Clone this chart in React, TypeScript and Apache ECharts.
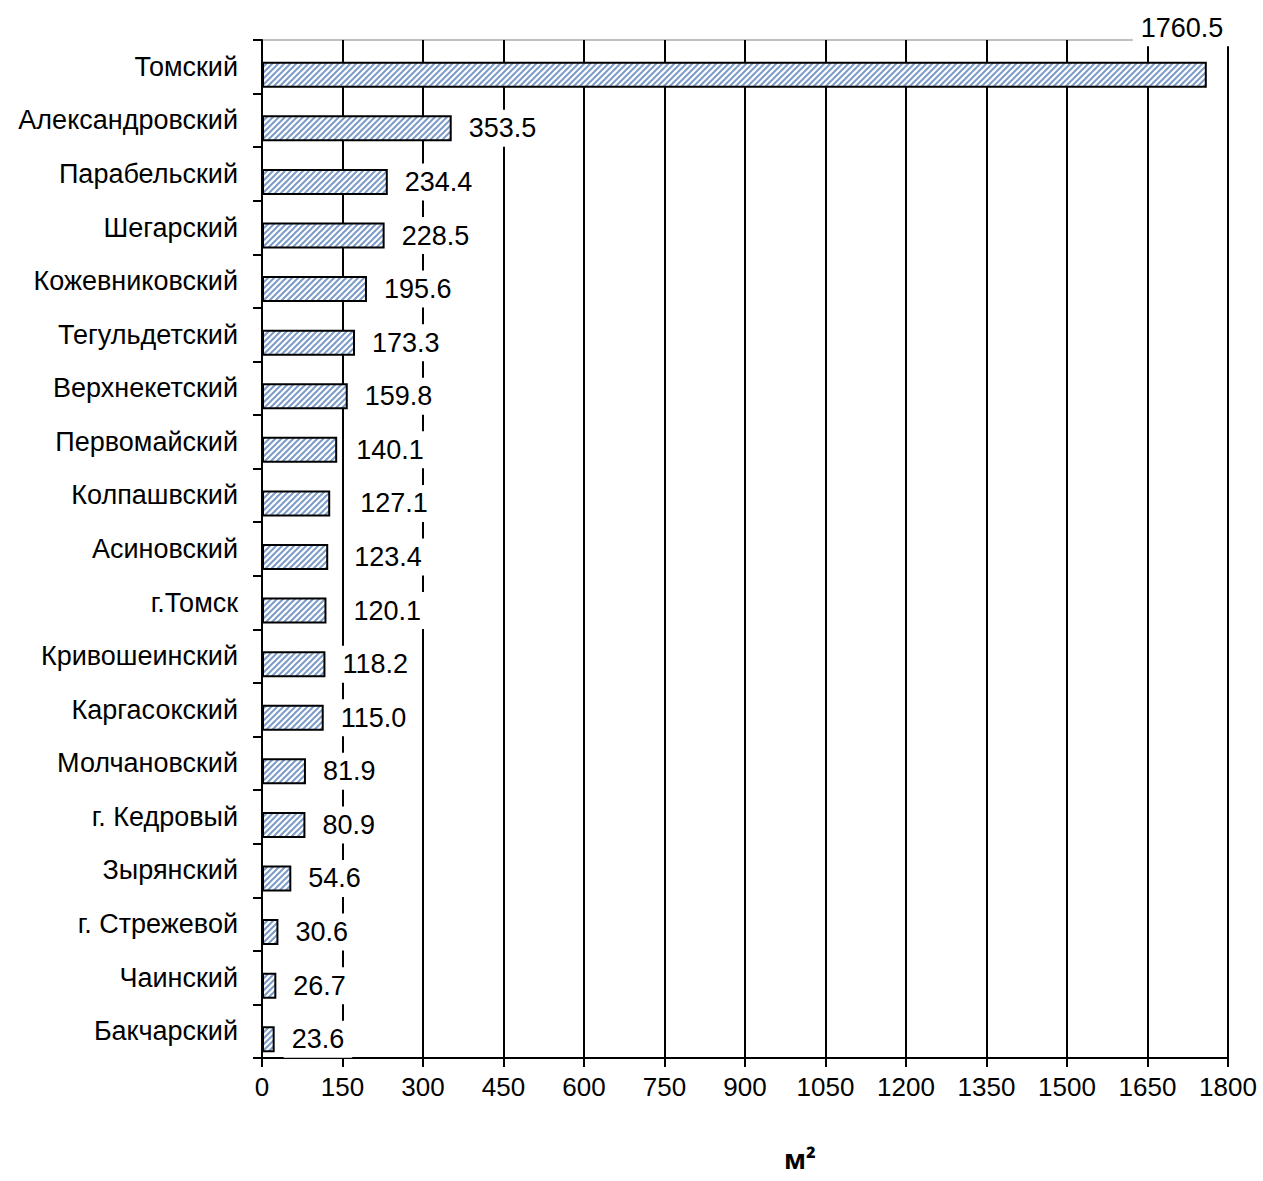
import React, { useEffect, useRef } from "react";
import * as echarts from "echarts";

const categories = [
  "Томский",
  "Александровский",
  "Парабельский",
  "Шегарский",
  "Кожевниковский",
  "Тегульдетский",
  "Верхнекетский",
  "Первомайский",
  "Колпашвский",
  "Асиновский",
  "г.Томск",
  "Кривошеинский",
  "Каргасокский",
  "Молчановский",
  "г. Кедровый",
  "Зырянский",
  "г. Стрежевой",
  "Чаинский",
  "Бакчарский",
];

const values = [
  1760.5, 353.5, 234.4, 228.5, 195.6, 173.3, 159.8, 140.1, 127.1, 123.4, 120.1,
  118.2, 115.0, 81.9, 80.9, 54.6, 30.6, 26.7, 23.6,
];

const xMin = 0;
const xMax = 1800;
const xStep = 150;
const unitLabel = "м²";

function makeHatch(): HTMLCanvasElement {
  const s = 6;
  const c = document.createElement("canvas");
  c.width = s;
  c.height = s;
  const ctx = c.getContext("2d")!;
  ctx.fillStyle = "#ffffff";
  ctx.fillRect(0, 0, s, s);
  ctx.strokeStyle = "#7c9bc8";
  ctx.lineWidth = 2;
  ctx.beginPath();
  ctx.moveTo(-1, s + 1);
  ctx.lineTo(s + 1, -1);
  ctx.moveTo(-1, 1);
  ctx.lineTo(1, -1);
  ctx.moveTo(s - 1, s + 1);
  ctx.lineTo(s + 1, s - 1);
  ctx.stroke();
  return c;
}

// per-bar label nudges (pixels) as placed in the original
const labelNudge: Record<number, number[]> = {
  0: [-83, -47],
  7: [2, 0],
  8: [13, 0],
  9: [9, 0],
  10: [10, 0],
};

export default function App() {
  const ref = useRef<HTMLDivElement>(null);
  useEffect(() => {
    if (!ref.current) return;
    const chart = echarts.init(ref.current, null, { renderer: "svg" });
    const hatch = makeHatch();
    const font = "'Liberation Sans', Arial, sans-serif";
    const data = values.map((v, i) => {
      if (labelNudge[i]) {
        return { value: v, label: { offset: labelNudge[i] } };
      }
      return v;
    });
    chart.setOption({
      animation: false,
      backgroundColor: "#ffffff",
      grid: {
        left: 262,
        right: 35,
        top: 40,
        bottom: 123,
        show: true,
        borderColor: "#808080",
        borderWidth: 1,
        backgroundColor: "transparent",
      },
      xAxis: {
        type: "value",
        min: xMin,
        max: xMax,
        interval: xStep,
        axisLine: { show: true, lineStyle: { color: "#000", width: 2 } },
        axisTick: { show: true, length: 9, lineStyle: { color: "#000", width: 2 } },
        axisLabel: {
          color: "#000",
          fontSize: 26,
          fontFamily: font,
          margin: 16,
          formatter: (v: number) => String(v),
        },
        splitLine: { show: true, lineStyle: { color: "#000", width: 2 } },
      },
      yAxis: {
        type: "category",
        inverse: true,
        data: categories,
        axisLine: { show: true, lineStyle: { color: "#000", width: 2 } },
        axisTick: { show: true, length: 9, alignWithLabel: false, lineStyle: { color: "#000", width: 2 } },
        axisLabel: { color: "#000", fontSize: 27, fontFamily: font, margin: 24 },
        splitLine: { show: false },
      },
      graphic: [
        {
          type: "text",
          left: 784,
          top: 1146,
          style: {
            text: unitLabel,
            font: "bold 26px 'Open Sans', sans-serif",
            fill: "#000",
          },
        },
      ],
      series: [
        {
          type: "bar",
          data: values.map(() => 0),
          barWidth: 16,
          barGap: 0,
          silent: true,
          itemStyle: { color: "transparent", borderWidth: 0 },
          label: { show: false },
        },
        {
          type: "bar",
          data,
          barWidth: 26,
          barGap: 0,
          itemStyle: {
            color: { image: hatch, repeat: "repeat" },
            borderColor: "#000",
            borderWidth: 2,
          },
          label: {
            show: true,
            position: "right",
            distance: 9,
            color: "#000",
            fontSize: 27,
            fontFamily: font,
            backgroundColor: "#ffffff",
            padding: [5, 8],
            formatter: (p: any) => Number(p.value).toFixed(1),
          },
          z: 3,
        },
      ],
    });
    return () => chart.dispose();
  }, []);
  return (
    <div
      ref={ref}
      style={{ position: "fixed", left: 0, top: 0, width: 1263, height: 1181 }}
    />
  );
}
